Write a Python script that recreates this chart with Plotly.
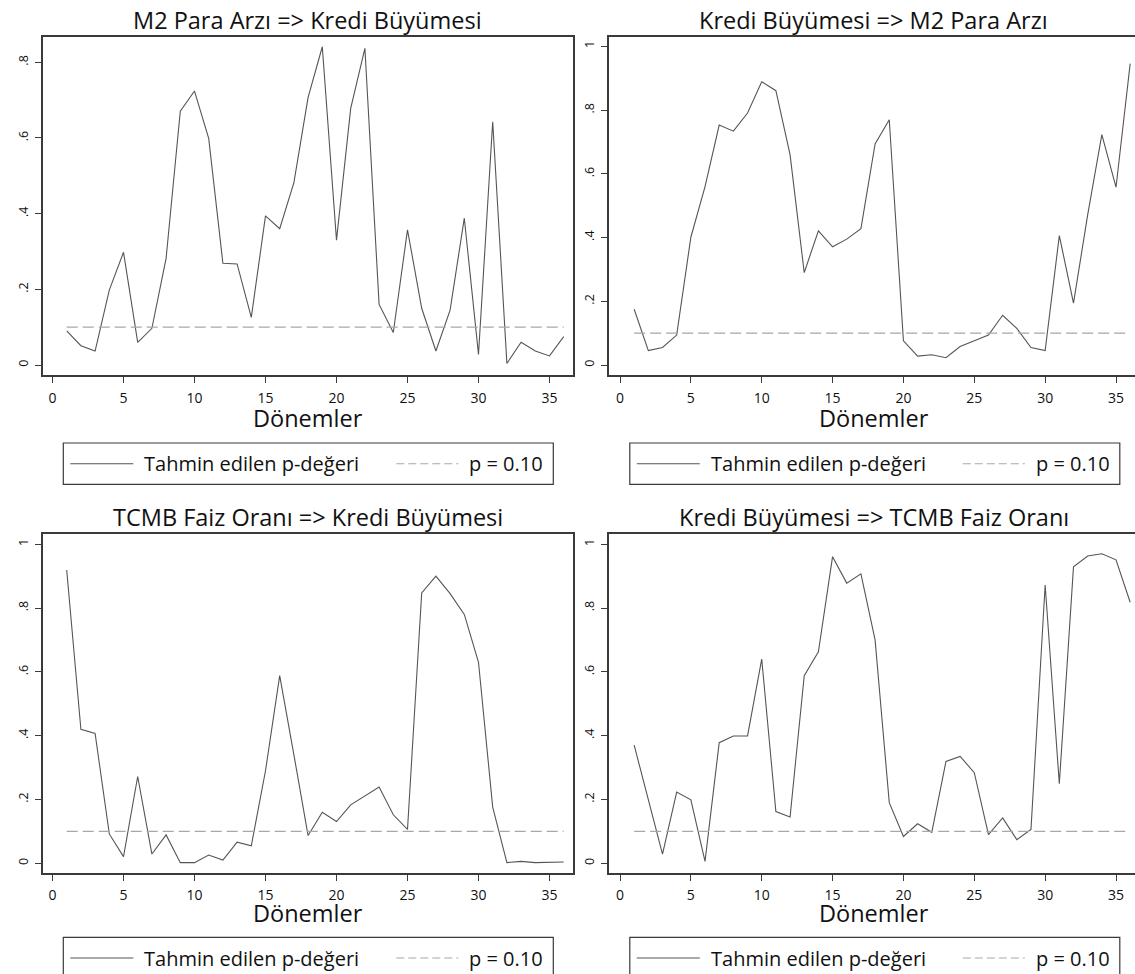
import plotly.graph_objects as go

periods = list(range(1, 37))

m2_to_credit = [0.090, 0.051, 0.037, 0.198, 0.298, 0.060, 0.097, 0.282, 0.671, 0.724,
                0.599, 0.269, 0.267, 0.126, 0.394, 0.360, 0.482, 0.707, 0.841, 0.330,
                0.678, 0.837, 0.160, 0.086, 0.357, 0.150, 0.037, 0.145, 0.388, 0.028,
                0.643, 0.004, 0.060, 0.037, 0.024, 0.075]

credit_to_m2 = [0.175, 0.045, 0.055, 0.094, 0.401, 0.560, 0.753, 0.734, 0.791, 0.889,
                0.861, 0.660, 0.290, 0.421, 0.371, 0.395, 0.428, 0.694, 0.770, 0.076,
                0.028, 0.032, 0.023, 0.058, 0.076, 0.094, 0.156, 0.115, 0.055, 0.045,
                0.406, 0.194, 0.471, 0.723, 0.558, 0.946]

rate_to_credit = [0.919, 0.420, 0.407, 0.092, 0.021, 0.272, 0.029, 0.089, 0.002, 0.002,
                  0.026, 0.010, 0.066, 0.055, 0.290, 0.588, 0.340, 0.087, 0.160, 0.131,
                  0.183, 0.210, 0.239, 0.152, 0.106, 0.847, 0.900, 0.845, 0.780, 0.630,
                  0.176, 0.002, 0.006, 0.002, 0.004, 0.004]

credit_to_rate = [0.370, 0.200, 0.029, 0.223, 0.199, 0.006, 0.378, 0.399, 0.399, 0.640,
                  0.162, 0.145, 0.588, 0.663, 0.961, 0.878, 0.907, 0.700, 0.190, 0.084,
                  0.124, 0.097, 0.319, 0.335, 0.284, 0.090, 0.142, 0.074, 0.106, 0.872,
                  0.249, 0.929, 0.963, 0.970, 0.951, 0.818]

threshold = 0.10

titles = ["M2 Para Arzı => Kredi Büyümesi", "Kredi Büyümesi => M2 Para Arzı",
          "TCMB Faiz Oranı => Kredi Büyümesi", "Kredi Büyümesi => TCMB Faiz Oranı"]
series = [m2_to_credit, credit_to_m2, rate_to_credit, credit_to_rate]
x_label = "Dönemler"
line_name = "Tahmin edilen p-değeri"
thr_name = "p = 0.10"
x_ticks = [0, 5, 10, 15, 20, 25, 30, 35]
y_ticks = [0, 0.2, 0.4, 0.6, 0.8, 1.0]
y_ticktext = ["0", ".2", ".4", ".6", ".8", "1"]

W, H = 1135, 974
FONT = "Open Sans"
FRAME = "#3a3a3a"
LINE_COLOR = "#555555"
THR_COLOR = "#a8a8a8"
THR_DASH = "11px,5px"


def px_x(p):
    return p / W


def px_y(p):
    return 1 - p / H


# panel geometry (pixels)
panels = [
    dict(x0=42.5, x1=572.5, y0=36.7, y1=375.0, xr=[-0.704, 36.62], yr=[-0.0264, 0.8676],
         right=False, lab=43, leg=443.0),
    dict(x0=609.0, x1=1135.0, y0=36.7, y1=375.0, xr=[-0.776, 36.34], yr=[-0.0314, 1.0304],
         right=True, lab=43, leg=443.0),
    dict(x0=42.5, x1=572.5, y0=534.3, y1=872.7, xr=[-0.704, 36.62], yr=[-0.0295, 1.031],
         right=False, lab=40, leg=937.3),
    dict(x0=609.0, x1=1135.0, y0=534.3, y1=872.7, xr=[-0.776, 36.34], yr=[-0.0295, 1.031],
         right=True, lab=40, leg=937.3),
]

fig = go.Figure()
annotations = []
shapes = []

for i, (p, vals, ttl) in enumerate(zip(panels, series, titles)):
    n = "" if i == 0 else str(i + 1)
    fig.add_trace(go.Scatter(
        x=periods, y=vals, mode="lines", name=line_name,
        line=dict(color=LINE_COLOR, width=1.1),
        xaxis="x" + n, yaxis="y" + n, showlegend=False))
    fig.add_trace(go.Scatter(
        x=[periods[0], periods[-1]], y=[threshold, threshold], mode="lines", name=thr_name,
        line=dict(color=THR_COLOR, width=1.1, dash=THR_DASH),
        xaxis="x" + n, yaxis="y" + n, showlegend=False))

    xa = dict(domain=[px_x(p["x0"]), px_x(p["x1"])], range=p["xr"],
              anchor="y" + n, showgrid=False, zeroline=False,
              showline=True, linecolor=FRAME, linewidth=1.6, mirror=True,
              ticks="outside", ticklen=6, tickwidth=1.2, tickcolor=FRAME,
              tickvals=x_ticks, ticktext=[str(t) for t in x_ticks],
              tickfont=dict(family=FONT, size=14, color="#111111"),
              ticklabelstandoff=3)
    ya = dict(domain=[px_y(p["y1"]), px_y(p["y0"])], range=p["yr"],
              anchor="x" + n, showgrid=False, zeroline=False,
              showline=True, linecolor=FRAME, linewidth=1.6,
              mirror=(not p["right"]),
              ticks="outside", ticklen=6, tickwidth=1.2, tickcolor=FRAME,
              tickvals=y_ticks, ticktext=y_ticktext, tickangle=-90,
              tickfont=dict(family=FONT, size=12.5, color="#111111"),
              ticklabelstandoff=2)
    fig.update_layout(**{"xaxis" + n: xa, "yaxis" + n: ya})

    cx = (p["x0"] + (p["x1"] if not p["right"] else 1138.0)) / 2
    annotations.append(dict(text=ttl, x=px_x(cx), y=px_y(p["y0"] - 17), xref="paper", yref="paper",
                            xanchor="center", yanchor="middle", showarrow=False,
                            font=dict(family=FONT, size=23.5, color="#111111")))
    annotations.append(dict(text=x_label, x=px_x(cx), y=px_y(p["y1"] + p["lab"]), xref="paper",
                            yref="paper", xanchor="center", yanchor="middle", showarrow=False,
                            font=dict(family=FONT, size=23.5, color="#111111")))

    # legend box (drawn manually to mimic Stata's layout)
    bx0 = p["x0"] + 20.8
    bx1 = bx0 + 490
    by0 = p["leg"]
    by1 = by0 + 41.4
    cy = (by0 + by1) / 2
    shapes.append(dict(type="rect", xref="paper", yref="paper",
                       x0=px_x(bx0), x1=px_x(bx1), y0=px_y(by1), y1=px_y(by0),
                       line=dict(color=FRAME, width=1.2), fillcolor="white", layer="above"))
    shapes.append(dict(type="line", xref="paper", yref="paper",
                       x0=px_x(bx0 + 7), x1=px_x(bx0 + 70), y0=px_y(cy), y1=px_y(cy),
                       line=dict(color=LINE_COLOR, width=1.1)))
    shapes.append(dict(type="line", xref="paper", yref="paper",
                       x0=px_x(bx0 + 333), x1=px_x(bx0 + 395), y0=px_y(cy), y1=px_y(cy),
                       line=dict(color=THR_COLOR, width=1.1, dash="8px,4px")))
    annotations.append(dict(text=line_name, x=px_x(bx0 + 79), y=px_y(cy), xref="paper", yref="paper",
                            xanchor="left", yanchor="middle", showarrow=False,
                            font=dict(family=FONT, size=20, color="#111111")))
    annotations.append(dict(text=thr_name, x=px_x(bx0 + 404), y=px_y(cy), xref="paper", yref="paper",
                            xanchor="left", yanchor="middle", showarrow=False,
                            font=dict(family=FONT, size=20, color="#111111")))

fig.update_layout(width=W, height=H, margin=dict(l=0, r=0, t=0, b=0),
                  paper_bgcolor="white", plot_bgcolor="white",
                  annotations=annotations, shapes=shapes, showlegend=False)

fig.write_html("out.html", config={"displayModeBar": False},
               post_script="document.body.style.margin='0px';document.body.style.overflow='hidden';")
